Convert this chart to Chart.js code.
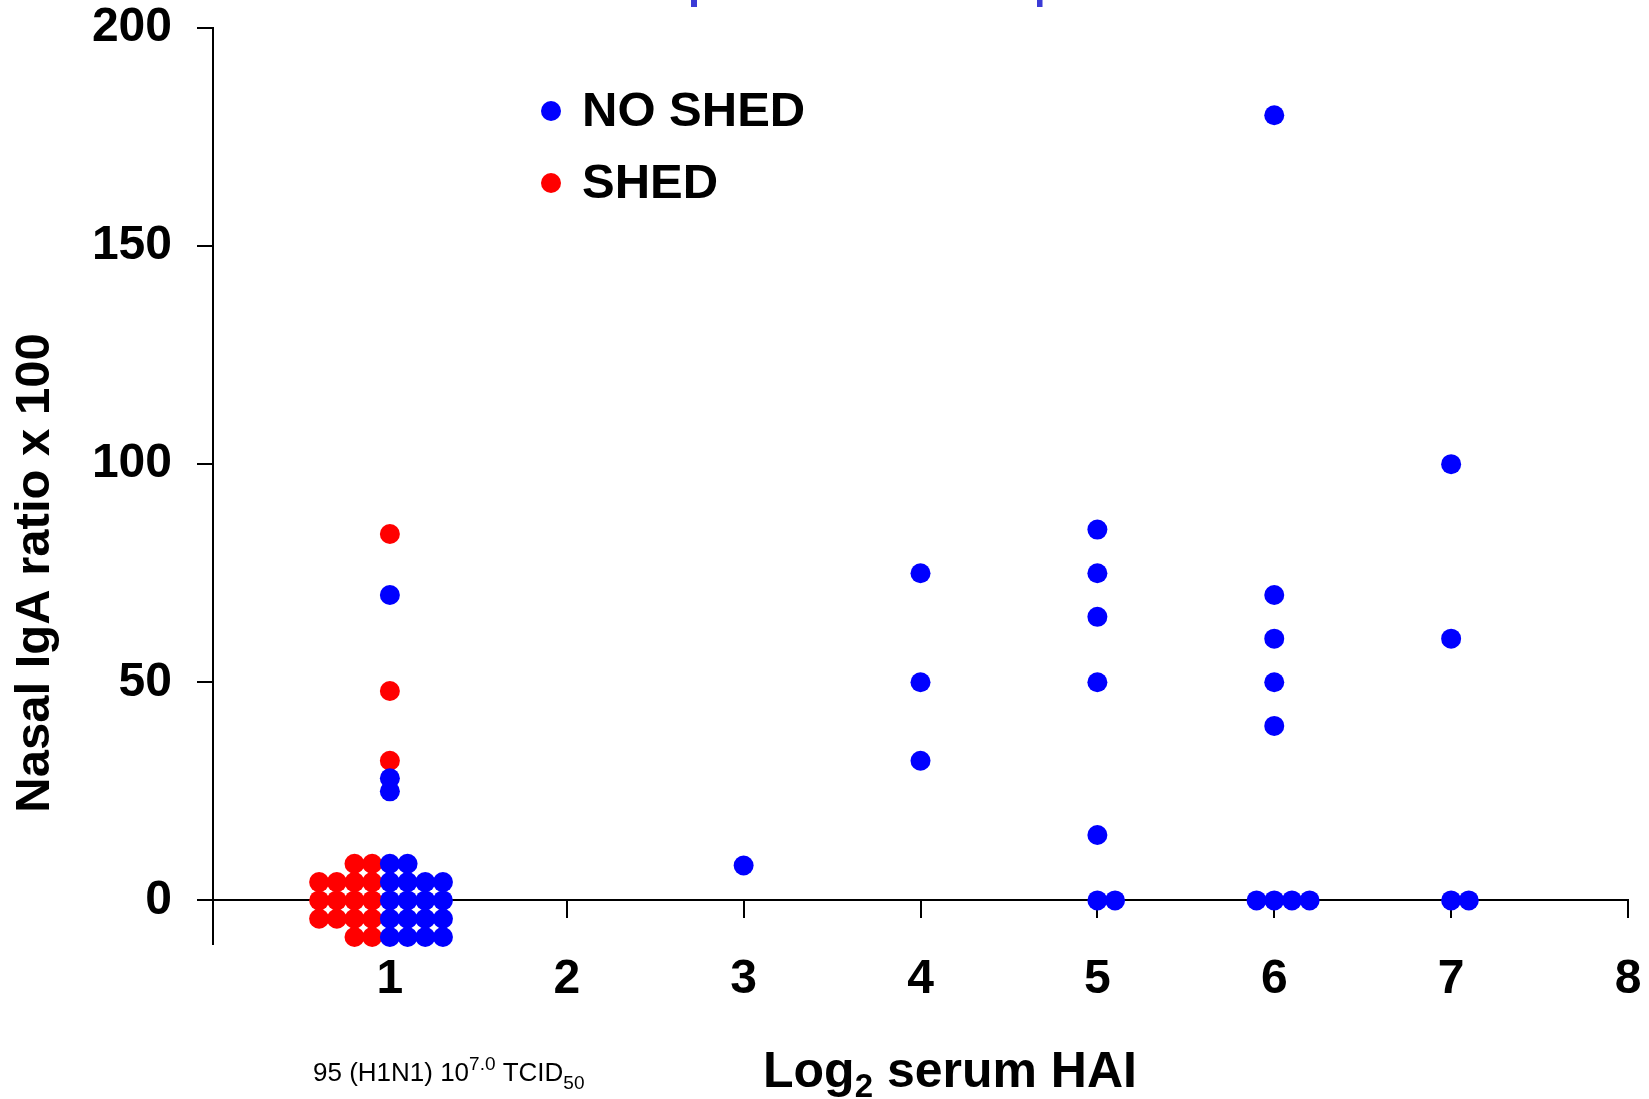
<!DOCTYPE html>
<html>
<head>
<meta charset="utf-8">
<script src="https://cdn.jsdelivr.net/npm/chart.js@4"></script>
<style>
  html, body { margin: 0; padding: 0; background: #ffffff; }
  #wrap { position: relative; width: 1649px; height: 1099px; }
</style>
</head>
<body>
<div id="wrap"><canvas id="c"></canvas></div>
<script>
// ---- data ----
const seriesLabels = ["NO SHED", "SHED"];
const seriesColors = ["#0000ff", "#ff0000"];

const noShedX = [1.0, 1.1,
                 1.0, 1.1, 1.2, 1.3,
                 1.0, 1.1, 1.2, 1.3,
                 1.0, 1.1, 1.2, 1.3,
                 1.0, 1.1, 1.2, 1.3,
                 1, 1, 1,
                 3,
                 4, 4, 4,
                 5, 5, 5, 5, 5, 5, 5.1,
                 6, 6, 6, 6, 6, 5.9, 6.0, 6.1, 6.2,
                 7, 7, 7.0, 7.1];
const noShedY = [8.4, 8.4,
                 4.2, 4.2, 4.2, 4.2,
                 0, 0, 0, 0,
                 -4.2, -4.2, -4.2, -4.2,
                 -8.4, -8.4, -8.4, -8.4,
                 70, 28, 25,
                 8,
                 75, 50, 32,
                 85, 75, 65, 50, 15, 0, 0,
                 180, 70, 60, 50, 40, 0, 0, 0, 0,
                 100, 60, 0, 0];

const shedX = [0.8, 0.9,
               0.6, 0.7, 0.8, 0.9,
               0.6, 0.7, 0.8, 0.9,
               0.6, 0.7, 0.8, 0.9,
               0.8, 0.9,
               1, 1, 1];
const shedY = [8.4, 8.4,
               4.2, 4.2, 4.2, 4.2,
               0, 0, 0, 0,
               -4.2, -4.2, -4.2, -4.2,
               -8.4, -8.4,
               84, 48, 32];

const xTicks = [1, 2, 3, 4, 5, 6, 7, 8];
const yTicks = [0, 50, 100, 150, 200];

const yTitle = "Nasal IgA ratio x 100";
const xTitleMain = "Log";
const xTitleSub = "2";
const xTitleRest = " serum HAI";
const footParts = ["95 (H1N1) 10", "7.0", " TCID", "50"];

// ---- build ----
const toPts = (xs, ys) => xs.map((x, i) => ({ x: x, y: ys[i] }));
const FONT = "'Liberation Sans', Arial, Helvetica, sans-serif";

const textPlugin = {
  id: 'textPlugin',
  afterDraw(chart) {
    const ctx = chart.ctx;
    ctx.save();
    ctx.fillStyle = '#000';

    // y-axis title
    ctx.save();
    ctx.translate(35, 573);
    ctx.rotate(-Math.PI / 2);
    ctx.font = 'bold 49px ' + FONT;
    ctx.textAlign = 'center';
    ctx.textBaseline = 'middle';
    ctx.fillText(yTitle, 0, 0);
    ctx.restore();

    // x-axis title with subscript
    const bigF = 'bold 50px ' + FONT, subF = 'bold 33px ' + FONT;
    ctx.font = bigF; const w1 = ctx.measureText(xTitleMain).width;
    ctx.font = subF; const w2 = ctx.measureText(xTitleSub).width;
    ctx.font = bigF; const w3 = ctx.measureText(xTitleRest).width;
    const total = w1 + w2 + w3;
    let x0 = 950 - total / 2;
    const base = 1087;
    ctx.textAlign = 'left';
    ctx.textBaseline = 'alphabetic';
    ctx.font = bigF; ctx.fillText(xTitleMain, x0, base);
    ctx.font = subF; ctx.fillText(xTitleSub, x0 + w1, base + 10);
    ctx.font = bigF; ctx.fillText(xTitleRest, x0 + w1 + w2, base);

    // footnote
    const nF = '26px ' + FONT, sF = '19px ' + FONT;
    let fx = 313;
    const fb = 1081;
    ctx.font = nF; ctx.fillText(footParts[0], fx, fb); fx += ctx.measureText(footParts[0]).width;
    ctx.font = sF; ctx.fillText(footParts[1], fx, fb - 11); fx += ctx.measureText(footParts[1]).width;
    ctx.font = nF; ctx.fillText(footParts[2], fx, fb); fx += ctx.measureText(footParts[2]).width;
    ctx.font = sF; ctx.fillText(footParts[3], fx, fb + 8);

    // legend
    const legendY = [111, 183];
    chart.data.datasets.forEach((ds, i) => {
      ctx.beginPath();
      ctx.fillStyle = ds.backgroundColor;
      ctx.arc(551, legendY[i], 10, 0, Math.PI * 2);
      ctx.fill();
      ctx.fillStyle = '#000';
      ctx.font = 'bold 49px ' + FONT;
      ctx.textBaseline = 'middle';
      ctx.fillText(ds.label, 582, legendY[i] + 1);
    });

    // cropped remains of a title at the very top
    ctx.fillStyle = '#3b3bd6';
    ctx.fillRect(691, 0, 6, 7);
    ctx.fillRect(1037, 0, 5.5, 7);
    ctx.restore();
  }
};

new Chart(document.getElementById('c'), {
  type: 'scatter',
  data: {
    datasets: [
      { label: seriesLabels[0], data: toPts(noShedX, noShedY), backgroundColor: seriesColors[0],
        borderWidth: 0, pointRadius: 10, pointHoverRadius: 10, clip: false },
      { label: seriesLabels[1], data: toPts(shedX, shedY), backgroundColor: seriesColors[1],
        borderWidth: 0, pointRadius: 10, pointHoverRadius: 10, clip: false }
    ]
  },
  options: {
    responsive: true,
    maintainAspectRatio: false,
    animation: false,
    events: [],
    layout: { padding: { left: 0, right: 21, top: 28, bottom: 155 } },
    plugins: { legend: { display: false }, tooltip: { enabled: false }, title: { display: false } },
    scales: {
      x: {
        type: 'linear',
        position: { y: 0 },
        min: 0, max: 8,
        afterBuildTicks: (s) => { s.ticks = [0].concat(xTicks).map(v => ({ value: v })); },
        afterFit: (s) => { s.height = 0; s.paddingLeft = 0; s.paddingRight = 0; s.paddingTop = 0; s.paddingBottom = 0; },
        ticks: {
          color: '#000',
          padding: 34,
          font: { family: FONT, size: 48, weight: 'bold' },
          callback: (v) => (v === 0 ? '' : String(v)),
          maxRotation: 0, autoSkip: false
        },
        grid: { display: true, drawOnChartArea: false, drawTicks: true, tickLength: 17, color: '#000', lineWidth: 2 },
        border: { display: true, color: '#000', width: 2 }
      },
      y: {
        type: 'linear',
        min: -10, max: 200,
        afterBuildTicks: (s) => { s.ticks = yTicks.map(v => ({ value: v })); },
        afterFit: (s) => { s.width = 213; s.paddingTop = 0; s.paddingBottom = 0; s.paddingLeft = 0; s.paddingRight = 0; },
        ticks: {
          color: '#000',
          padding: 25,
          font: { family: FONT, size: 48, weight: 'bold' }
        },
        grid: { display: true, drawOnChartArea: false, drawTicks: true, tickLength: 16, color: '#000', lineWidth: 2 },
        border: { display: true, color: '#000', width: 2 }
      }
    }
  },
  plugins: [textPlugin]
});
</script>
</body>
</html>
